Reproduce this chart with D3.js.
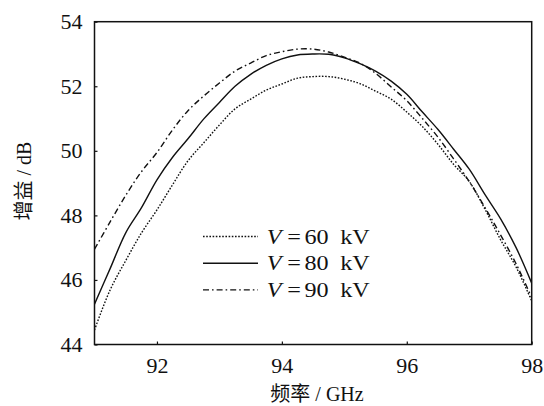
<!DOCTYPE html>
<html>
<head>
<meta charset="utf-8">
<script src="https://cdn.jsdelivr.net/npm/d3@7"></script>
<style>
  html, body { margin: 0; padding: 0; background: #fff; }
  svg text { font-family: "Liberation Serif", "DejaVu Serif", serif; fill: #111; }
  .cjk { font-family: "Noto Sans CJK SC", sans-serif; }
</style>
</head>
<body>
<svg id="chart" width="544" height="406"></svg>
<script>
// Frequency samples (GHz)
const freq = [91.0, 91.25, 91.5, 91.75, 92.0, 92.25, 92.5, 92.75, 93.0, 93.25,
  93.5, 93.75, 94.0, 94.25, 94.5, 94.75, 95.0, 95.25, 95.5, 95.75,
  96.0, 96.25, 96.5, 96.75, 97.0, 97.25, 97.5, 97.75, 98.0];

// Gain (dB) at each beam voltage
const gain60 = [44.45, 45.69, 46.6, 47.45, 48.17, 48.95, 49.7, 50.25, 50.8, 51.3,
  51.6, 51.88, 52.07, 52.25, 52.3, 52.3, 52.22, 52.08, 51.85, 51.6,
  51.2, 50.75, 50.2, 49.58, 49.05, 48.2, 47.25, 46.4, 45.35];
const gain80 = [45.25, 46.35, 47.46, 48.23, 49.1, 49.8, 50.38, 50.99, 51.5, 52.0,
  52.37, 52.65, 52.85, 52.97, 53.0, 52.99, 52.88, 52.7, 52.47, 52.16,
  51.75, 51.2, 50.66, 50.05, 49.43, 48.65, 47.9, 47.0, 45.9];
const gain90 = [46.95, 47.8, 48.62, 49.35, 49.95, 50.65, 51.25, 51.7, 52.1, 52.47,
  52.72, 52.95, 53.07, 53.15, 53.15, 53.06, 52.9, 52.72, 52.4, 51.98,
  51.55, 51.0, 50.42, 49.75, 49.05, 48.25, 47.4, 46.5, 45.45];

const seriesNames = ["60", "80", "90"];
const xTicks = [92, 94, 96, 98];
const yTicks = [44, 46, 48, 50, 52, 54];

const svg = d3.select("#chart");
const mLeft = 94.5, mRight = 531.7, mTop = 21.7, mBottom = 344.5;

const x = d3.scaleLinear().domain([91, 98]).range([mLeft, mRight]);
const y = d3.scaleLinear().domain([44, 54]).range([mBottom, mTop]);

// Curves
const series = [
  { name: seriesNames[0], values: gain60, dash: "1.6,1.6" },
  { name: seriesNames[1], values: gain80, dash: null },
  { name: seriesNames[2], values: gain90, dash: "6,3,1.6,3" }
];

const line = d3.line()
  .x(d => x(d[0]))
  .y(d => y(d[1]))
  .curve(d3.curveCatmullRom.alpha(0.5));

const plot = svg.append("g");
plot.append("clipPath").attr("id", "clip")
  .append("rect").attr("x", mLeft).attr("y", mTop)
  .attr("width", mRight - mLeft).attr("height", mBottom - mTop);

series.forEach(s => {
  plot.append("path")
    .attr("clip-path", "url(#clip)")
    .attr("d", line(freq.map((f, i) => [f, s.values[i]])))
    .attr("fill", "none")
    .attr("stroke", "#111")
    .attr("stroke-width", 1.4)
    .attr("stroke-dasharray", s.dash);
});

// Axes with inward ticks
const xAxis = d3.axisBottom(x).tickValues(xTicks).tickSize(-3).tickPadding(13).tickFormat(d3.format("d"));
const yAxis = d3.axisLeft(y).tickValues(yTicks).tickSize(-3).tickPadding(12).tickFormat(d3.format("d"));

const gx = svg.append("g").attr("transform", `translate(0,${mBottom})`).call(xAxis);
const gy = svg.append("g").attr("transform", `translate(${mLeft},0)`).call(yAxis);
[gx, gy].forEach(g => {
  g.select(".domain").remove();
  g.selectAll(".tick line").attr("stroke", "#111").attr("stroke-width", 1.2);
  g.selectAll(".tick text").attr("font-size", 22).attr("font-family", "Liberation Serif").attr("fill", "#111");
});

// Frame
svg.append("rect")
  .attr("x", mLeft).attr("y", mTop)
  .attr("width", mRight - mLeft).attr("height", mBottom - mTop)
  .attr("fill", "none").attr("stroke", "#111").attr("stroke-width", 1.5);

// Axis titles
const xt = svg.append("text")
  .attr("x", 317).attr("y", 401)
  .attr("text-anchor", "middle").attr("font-size", 20);
xt.append("tspan").attr("class", "cjk").text("频率");
xt.append("tspan").text(" / GHz");

const yt = svg.append("text")
  .attr("transform", "translate(31,181) rotate(-90)")
  .attr("text-anchor", "middle").attr("font-size", 20);
yt.append("tspan").attr("class", "cjk").text("增益");
yt.append("tspan").text(" / dB");

// Legend: sample line, then "V = ... kV" set piece by piece
const legend = svg.append("g");
series.forEach((s, i) => {
  const ly = 236.5 + i * 26.7;
  legend.append("line")
    .attr("x1", 203).attr("x2", 258).attr("y1", ly).attr("y2", ly)
    .attr("stroke", "#111").attr("stroke-width", 1.4)
    .attr("stroke-dasharray", s.dash);
  const t = legend.append("text")
    .attr("transform", `translate(266,${ly + 7}) scale(1.15,1)`)
    .attr("font-size", 21);
  t.append("tspan").attr("x", 0.6).attr("font-style", "italic").text("V");
  t.append("tspan").attr("x", 18.5).text("=");
  t.append("tspan").attr("x", 33.5).text(s.name);
  t.append("tspan").attr("x", 64.5).text("kV");
});
</script>
</body>
</html>
